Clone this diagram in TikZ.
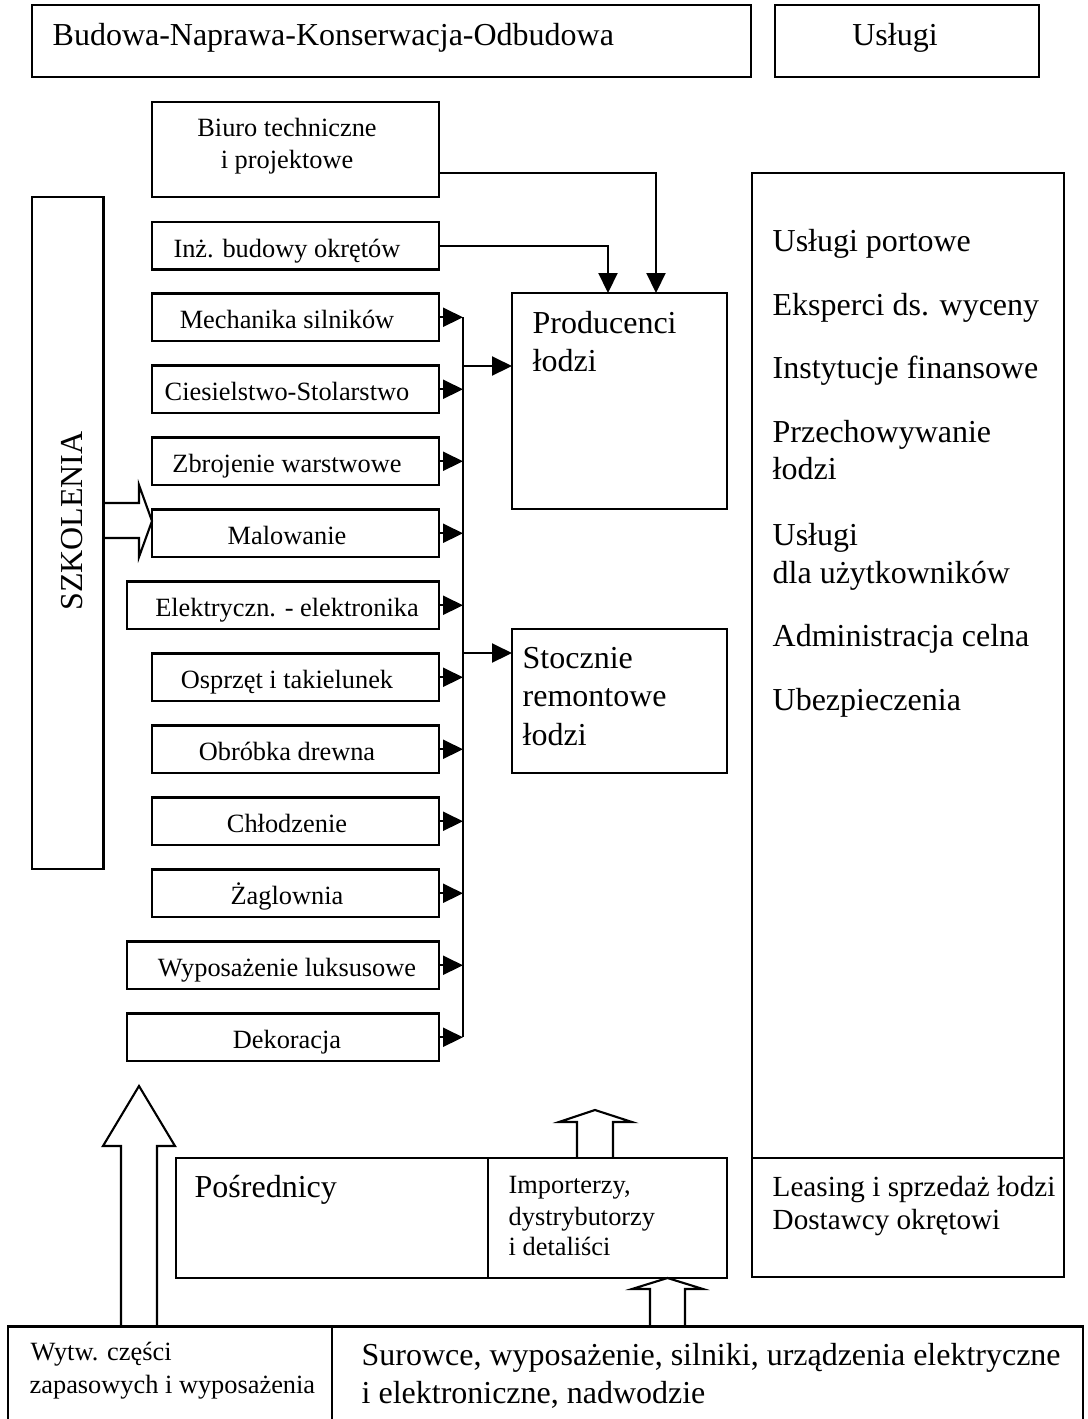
\documentclass[tikz,border=0pt]{standalone}
\usepackage{fontspec}
\setmainfont{Liberation Serif}
\usetikzlibrary{arrows.meta,calc,positioning}
\tikzset{
    box/.style = {draw, rectangle, line width=0.6pt, inner sep=0pt, outer sep=0pt, anchor=north west},
    big/.style = {font=\fontsize{9.1}{10.8}\selectfont, inner sep=0pt},
    mid/.style = {font=\fontsize{8.3}{9.4}\selectfont, inner sep=0pt},
    small/.style = {font=\fontsize{7.5}{9.1}\selectfont, inner sep=0pt},
    line/.style = {draw, line width=0.6pt},
    arrow/.style = {draw, line width=0.6pt, -{Triangle[length=2mm, width=1.9mm]}},
    hollow/.style = {draw, line width=0.6pt, line join=miter}
}

\begin{document}
\begin{tikzpicture}
    \useasboundingbox (0,0) rectangle (10.88,-14.19);
    \clip (0,0) rectangle (10.88,-14.19);
    % top row
    \node [box, minimum width=7.19cm, minimum height=0.72cm] (budowa) at (0.32,-0.05) {};
    \node [big, anchor=base west] (budowaT) at (0.52,-0.45) {Budowa-Naprawa-Konserwacja-Odbudowa};
    \node [box, minimum width=2.64cm, minimum height=0.72cm] (uslugi) at (7.75,-0.05) {};
    \node [big, anchor=base] (uslugiT) at (8.95,-0.45) {Usługi};

    % design offices
    \node [box, minimum width=2.87cm, minimum height=0.95cm] (biuro) at (1.52,-1.02) {};
    \node [small, anchor=base] (biuroT1) at (2.87,-1.36) {Biuro techniczne};
    \node [small, anchor=base] (biuroT2) at (2.87,-1.68) {i projektowe};
    \node [box, minimum width=2.87cm, minimum height=0.475cm] (inz) at (1.52,-2.22) {};
    \node [small, anchor=base] (inzT) at (2.87,-2.57) {Inż. budowy okrętów};

    \coordinate (bus) at (4.63,0);
    \foreach \x/\t [count=\i] in {1.52/Mechanika silników, 1.52/Ciesielstwo-Stolarstwo,
        1.52/Zbrojenie warstwowe, 1.52/Malowanie, 1.27/Elektryczn. - elektronika,
        1.52/Osprzęt i takielunek, 1.52/Obróbka drewna, 1.52/Chłodzenie,
        1.52/Żaglownia, 1.27/Wyposażenie luksusowe, 1.27/Dekoracja}{
        \pgfmathsetmacro{\y}{-2.935-0.72*(\i-1)}
        \node [box, minimum width={(4.39-\x)*1cm}, minimum height=0.475cm] (k\i) at (\x,\y) {};
        \node [small, anchor=base] (kt\i) at (2.87,\y-0.345) {\t};
        \draw [arrow] (k\i.east) -- (k\i.east -| bus);
    }
    \draw [line] (k1.east -| bus) -- (k11.east -| bus);

    % producers and shipyards
    \node [box, minimum width=2.15cm, minimum height=2.16cm] (prod) at (5.12,-2.93) {};
    \node [big, anchor=base west] (prodT1) at (5.32,-3.33) {Producenci};
    \node [big, anchor=base west] (prodT2) at (5.32,-3.71) {łodzi};
    \node [box, minimum width=2.15cm, minimum height=1.44cm] (stocz) at (5.12,-6.29) {};
    \node [big, anchor=base west] (stoczT1) at (5.22,-6.68) {Stocznie};
    \node [big, anchor=base west] (stoczT2) at (5.22,-7.065) {remontowe};
    \node [big, anchor=base west] (stoczT3) at (5.22,-7.45) {łodzi};
    \coordinate (pin1) at (4.63,-3.66);
    \coordinate (pin2) at (4.63,-6.53);
    \draw [arrow] (pin1) -- (pin1 -| prod.west);
    \draw [arrow] (pin2) -- (pin2 -| stocz.west);
    \draw [arrow] ([yshift=-2.35mm]biuro.east) -| ([xshift=3.65mm]prod.north);
    \draw [arrow] (inz.east) -| ([xshift=-1.15mm]prod.north);

    % trainings
    \node [box, minimum width=0.715cm, minimum height=6.72cm] (szk) at (0.32,-1.97) {};
    \node [big, rotate=90] (szkT) at (0.72,-5.21) {SZKOLENIA};
    \draw [hollow] (szk.east |- 0,-5.03) -- (1.39,-5.03) -- (1.39,-4.85) -- (k4.west |- 0,-5.21)
        -- (1.39,-5.57) -- (1.39,-5.38) -- (szk.east |- 0,-5.38);

    % services
    \node [box, minimum width=3.12cm, minimum height=9.85cm] (serv) at (7.52,-1.73) {};
    \foreach \y/\t in {2.51/Usługi portowe, 3.15/Eksperci ds. wyceny, 3.78/Instytucje finansowe,
        4.42/Przechowywanie, 4.79/łodzi, 5.45/Usługi, 5.83/dla użytkowników,
        6.46/Administracja celna, 7.10/Ubezpieczenia}
        \node [big, anchor=base west] at (7.72,-\y) {\t};
    \node [box, minimum width=3.12cm, minimum height=1.19cm, below=0pt of serv] (leasing) {};
    \node [mid, anchor=base west] (leasingT1) at (7.72,-11.96) {Leasing i sprzedaż łodzi};
    \node [mid, anchor=base west] (leasingT2) at (7.72,-12.29) {Dostawcy okrętowi};

    % intermediaries
    \node [box, minimum width=3.12cm, minimum height=1.2cm] (posr) at (1.76,-11.58) {};
    \node [big, anchor=base west] (posrT) at (1.94,-11.97) {Pośrednicy};
    \node [box, minimum width=2.39cm, minimum height=1.2cm, right=0pt of posr] (imp) {};
    \node [small, anchor=base west] (impT1) at (5.08,-11.93) {Importerzy,};
    \node [small, anchor=base west] (impT2) at (5.08,-12.25) {dystrybutorzy};
    \node [small, anchor=base west] (impT3) at (5.08,-12.55) {i detaliści};

    % suppliers
    \node [box, minimum width=3.24cm, minimum height=2cm] (wytw) at (0.08,-13.265) {};
    \node [small, anchor=base west] (wytwT1) at (0.30,-13.60) {Wytw. części};
    \node [small, anchor=base west] (wytwT2) at (0.29,-13.93) {zapasowych i wyposażenia};
    \node [box, minimum width=7.51cm, minimum height=2cm, right=0pt of wytw] (surow) {};
    \node [big, anchor=base west] (surowT1) at (3.61,-13.65) {Surowce, wyposażenie, silniki, urządzenia elektryczne};
    \node [big, anchor=base west] (surowT2) at (3.61,-14.03) {i elektroniczne, nadwodzie};

    \draw [hollow] (1.21,0 |- wytw.north) -- (1.21,-11.46) -- (1.03,-11.46) -- (1.39,-10.86)
        -- (1.75,-11.46) -- (1.57,-11.46) -- (1.57,0 |- wytw.north);
    \draw [hollow] (5.77,0 |- imp.north) -- (5.77,-11.22) -- (5.59,-11.22) -- (5.95,-11.10)
        -- (6.32,-11.22) -- (6.13,-11.22) -- (6.13,0 |- imp.north);
    \draw [hollow] (6.50,0 |- surow.north) -- (6.50,-12.89) -- (6.32,-12.89) -- (6.675,0 |- imp.south)
        -- (7.03,-12.89) -- (6.85,-12.89) -- (6.85,0 |- surow.north);
\end{tikzpicture}
\end{document}
